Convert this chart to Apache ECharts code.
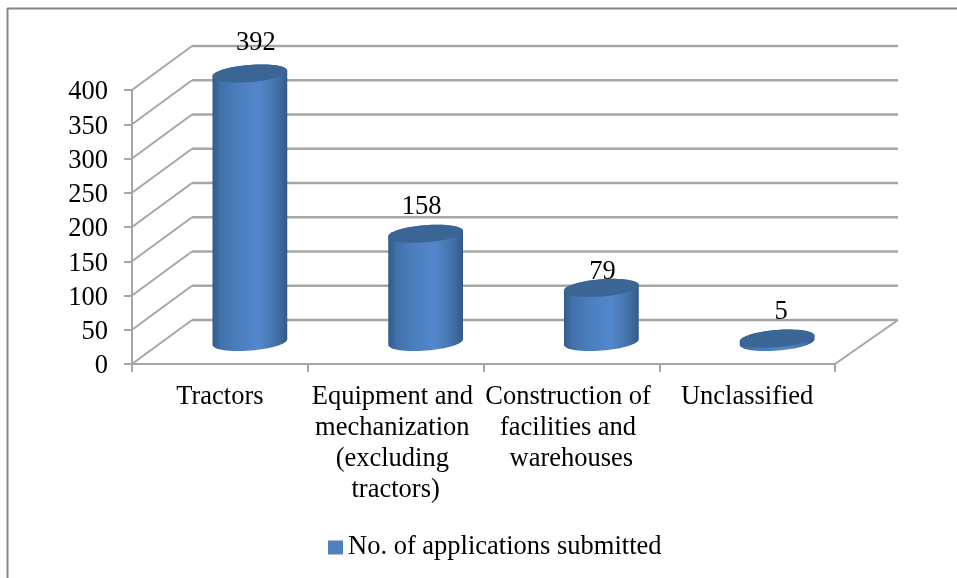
<!DOCTYPE html>
<html>
<head>
<meta charset="utf-8">
<style>html,body{margin:0;padding:0;background:#fff}#c{width:957px;height:578px}</style>
<script src="https://cdn.jsdelivr.net/npm/echarts@6/dist/echarts.min.js"></script>
</head>
<body>
<div id="c"></div>
<script>
const categories = ['Tractors', 'Equipment and mechanization (excluding tractors)', 'Construction of facilities and warehouses', 'Unclassified'];
const seriesName = 'No. of applications submitted';
const applications = [392, 158, 79, 5];
const yTicks = [0, 50, 100, 150, 200, 250, 300, 350, 400];

const FONT = '"Liberation Serif","Times New Roman",serif';
const FS = 26.5;
const DEPTH_X = 60, DEPTH_Y = -44, BACK_EXTRA = 3;
const RX = 37.5, RY = 8.6, TILT = 4.5 * Math.PI / 180;
const LABEL_DX = [6, -4, 1, 4], LABEL_DY = [-30, -27, -16, -27];
const GRID = '#a6a6a6';

function ellipsePts(cx, cy, from, to, n) {
  const pts = [];
  for (let i = 0; i <= n; i++) {
    const t = from + (to - from) * i / n;
    const ex = RX * Math.cos(t), ey = RY * Math.sin(t);
    pts.push([cx + ex * Math.cos(TILT) + ey * Math.sin(TILT), cy - ex * Math.sin(TILT) + ey * Math.cos(TILT)]);
  }
  return pts;
}

function renderWall(params, api) {
  const v = api.value(1);
  const y = api.coord([0, v])[1];
  const cs = params.coordSys;
  const slant = { stroke: GRID, lineWidth: 2, fill: null };
  const back = { stroke: GRID, lineWidth: 2.6, fill: null };
  const x0 = cs.x, x1 = cs.x + cs.width;
  const children = [
    { type: 'line', shape: { x1: x0, y1: y, x2: x0 + DEPTH_X, y2: y + DEPTH_Y }, style: slant },
    { type: 'line', shape: { x1: x0 + DEPTH_X, y1: y + DEPTH_Y, x2: x1 + DEPTH_X + BACK_EXTRA, y2: y + DEPTH_Y }, style: back }
  ];
  if (v === 0) {
    children.push({ type: 'line', shape: { x1: x1, y1: y, x2: x1 + DEPTH_X + BACK_EXTRA, y2: y + DEPTH_Y }, style: slant });
  }
  return { type: 'group', children };
}

function renderCylinder(params, api) {
  const i = api.value(0), v = api.value(1);
  const top = api.coord([i, v]);
  const base = api.coord([i, 0]);
  const cx = top[0] + DEPTH_X / 2;
  const ty = top[1] + DEPTH_Y / 2;
  const by = base[1] + DEPTH_Y / 2;
  const hull = ellipsePts(cx, by, 0, Math.PI, 32).concat(ellipsePts(cx, ty, Math.PI, 2 * Math.PI, 32));
  const grad = new echarts.graphic.LinearGradient(0, 0, 1, 0, [
    { offset: 0, color: '#325c8c' },
    { offset: 0.12, color: '#4272ab' },
    { offset: 0.35, color: '#4c7fbe' },
    { offset: 0.62, color: '#5387cc' },
    { offset: 0.85, color: '#4473ab' },
    { offset: 1, color: '#325a88' }
  ]);
  return {
    type: 'group',
    children: [
      { type: 'polygon', shape: { points: hull }, style: { fill: grad } },
      { type: 'polygon', shape: { points: ellipsePts(cx, ty, 0, 2 * Math.PI, 64) }, style: { fill: '#3a6595' } },
      { type: 'text', style: { text: String(v), x: cx + LABEL_DX[i], y: ty + LABEL_DY[i], fill: '#000', font: FS + 'px ' + FONT, textAlign: 'center', verticalAlign: 'middle' } }
    ]
  };
}

const chart = echarts.init(document.getElementById('c'), null, { renderer: 'canvas' });
chart.setOption({
  animation: false,
  backgroundColor: '#fff',
  grid: { left: 132, top: 90, width: 703, height: 274 },
  legend: {
    left: 323, top: 529,
    data: [seriesName],
    icon: 'rect', itemWidth: 15, itemHeight: 14,
    selectedMode: false,
    textStyle: { fontFamily: FONT, fontSize: FS, color: '#000' }
  },
  xAxis: {
    type: 'category', data: categories,
    axisLine: { show: true, lineStyle: { color: GRID, width: 2 } },
    axisTick: { show: true, length: 8, lineStyle: { color: GRID, width: 2 } },
    splitLine: { show: false },
    axisLabel: { interval: 0, margin: 18, width: 176, overflow: 'break', lineHeight: 31, fontFamily: FONT, fontSize: FS, color: '#000' }
  },
  yAxis: {
    type: 'value', min: 0, max: 400, interval: 50,
    axisLine: { show: true, lineStyle: { color: GRID, width: 2 } },
    axisTick: { show: true, length: 8, lineStyle: { color: GRID, width: 2 } },
    splitLine: { show: false },
    axisLabel: { margin: 24, verticalAlign: 'top', lineHeight: 5, fontFamily: FONT, fontSize: FS, color: '#000' }
  },
  graphic: [
    { type: 'line', silent: true, shape: { x1: 7.5, y1: 8, x2: 7.5, y2: 578 }, style: { stroke: '#868686', lineWidth: 2 } },
    { type: 'line', silent: true, shape: { x1: 7, y1: 8.5, x2: 957, y2: 8.5 }, style: { stroke: '#868686', lineWidth: 2 } }
  ],
  series: [
    { type: 'custom', name: 'walls', silent: true, clip: false, z: 1, renderItem: renderWall,
      data: yTicks.map(v => [0, v]) },
    { type: 'custom', name: seriesName, silent: true, clip: false, z: 3, renderItem: renderCylinder,
      itemStyle: { color: '#4f81bd' },
      data: applications.map((v, i) => [i, v]) }
  ]
});
</script>
</body>
</html>
